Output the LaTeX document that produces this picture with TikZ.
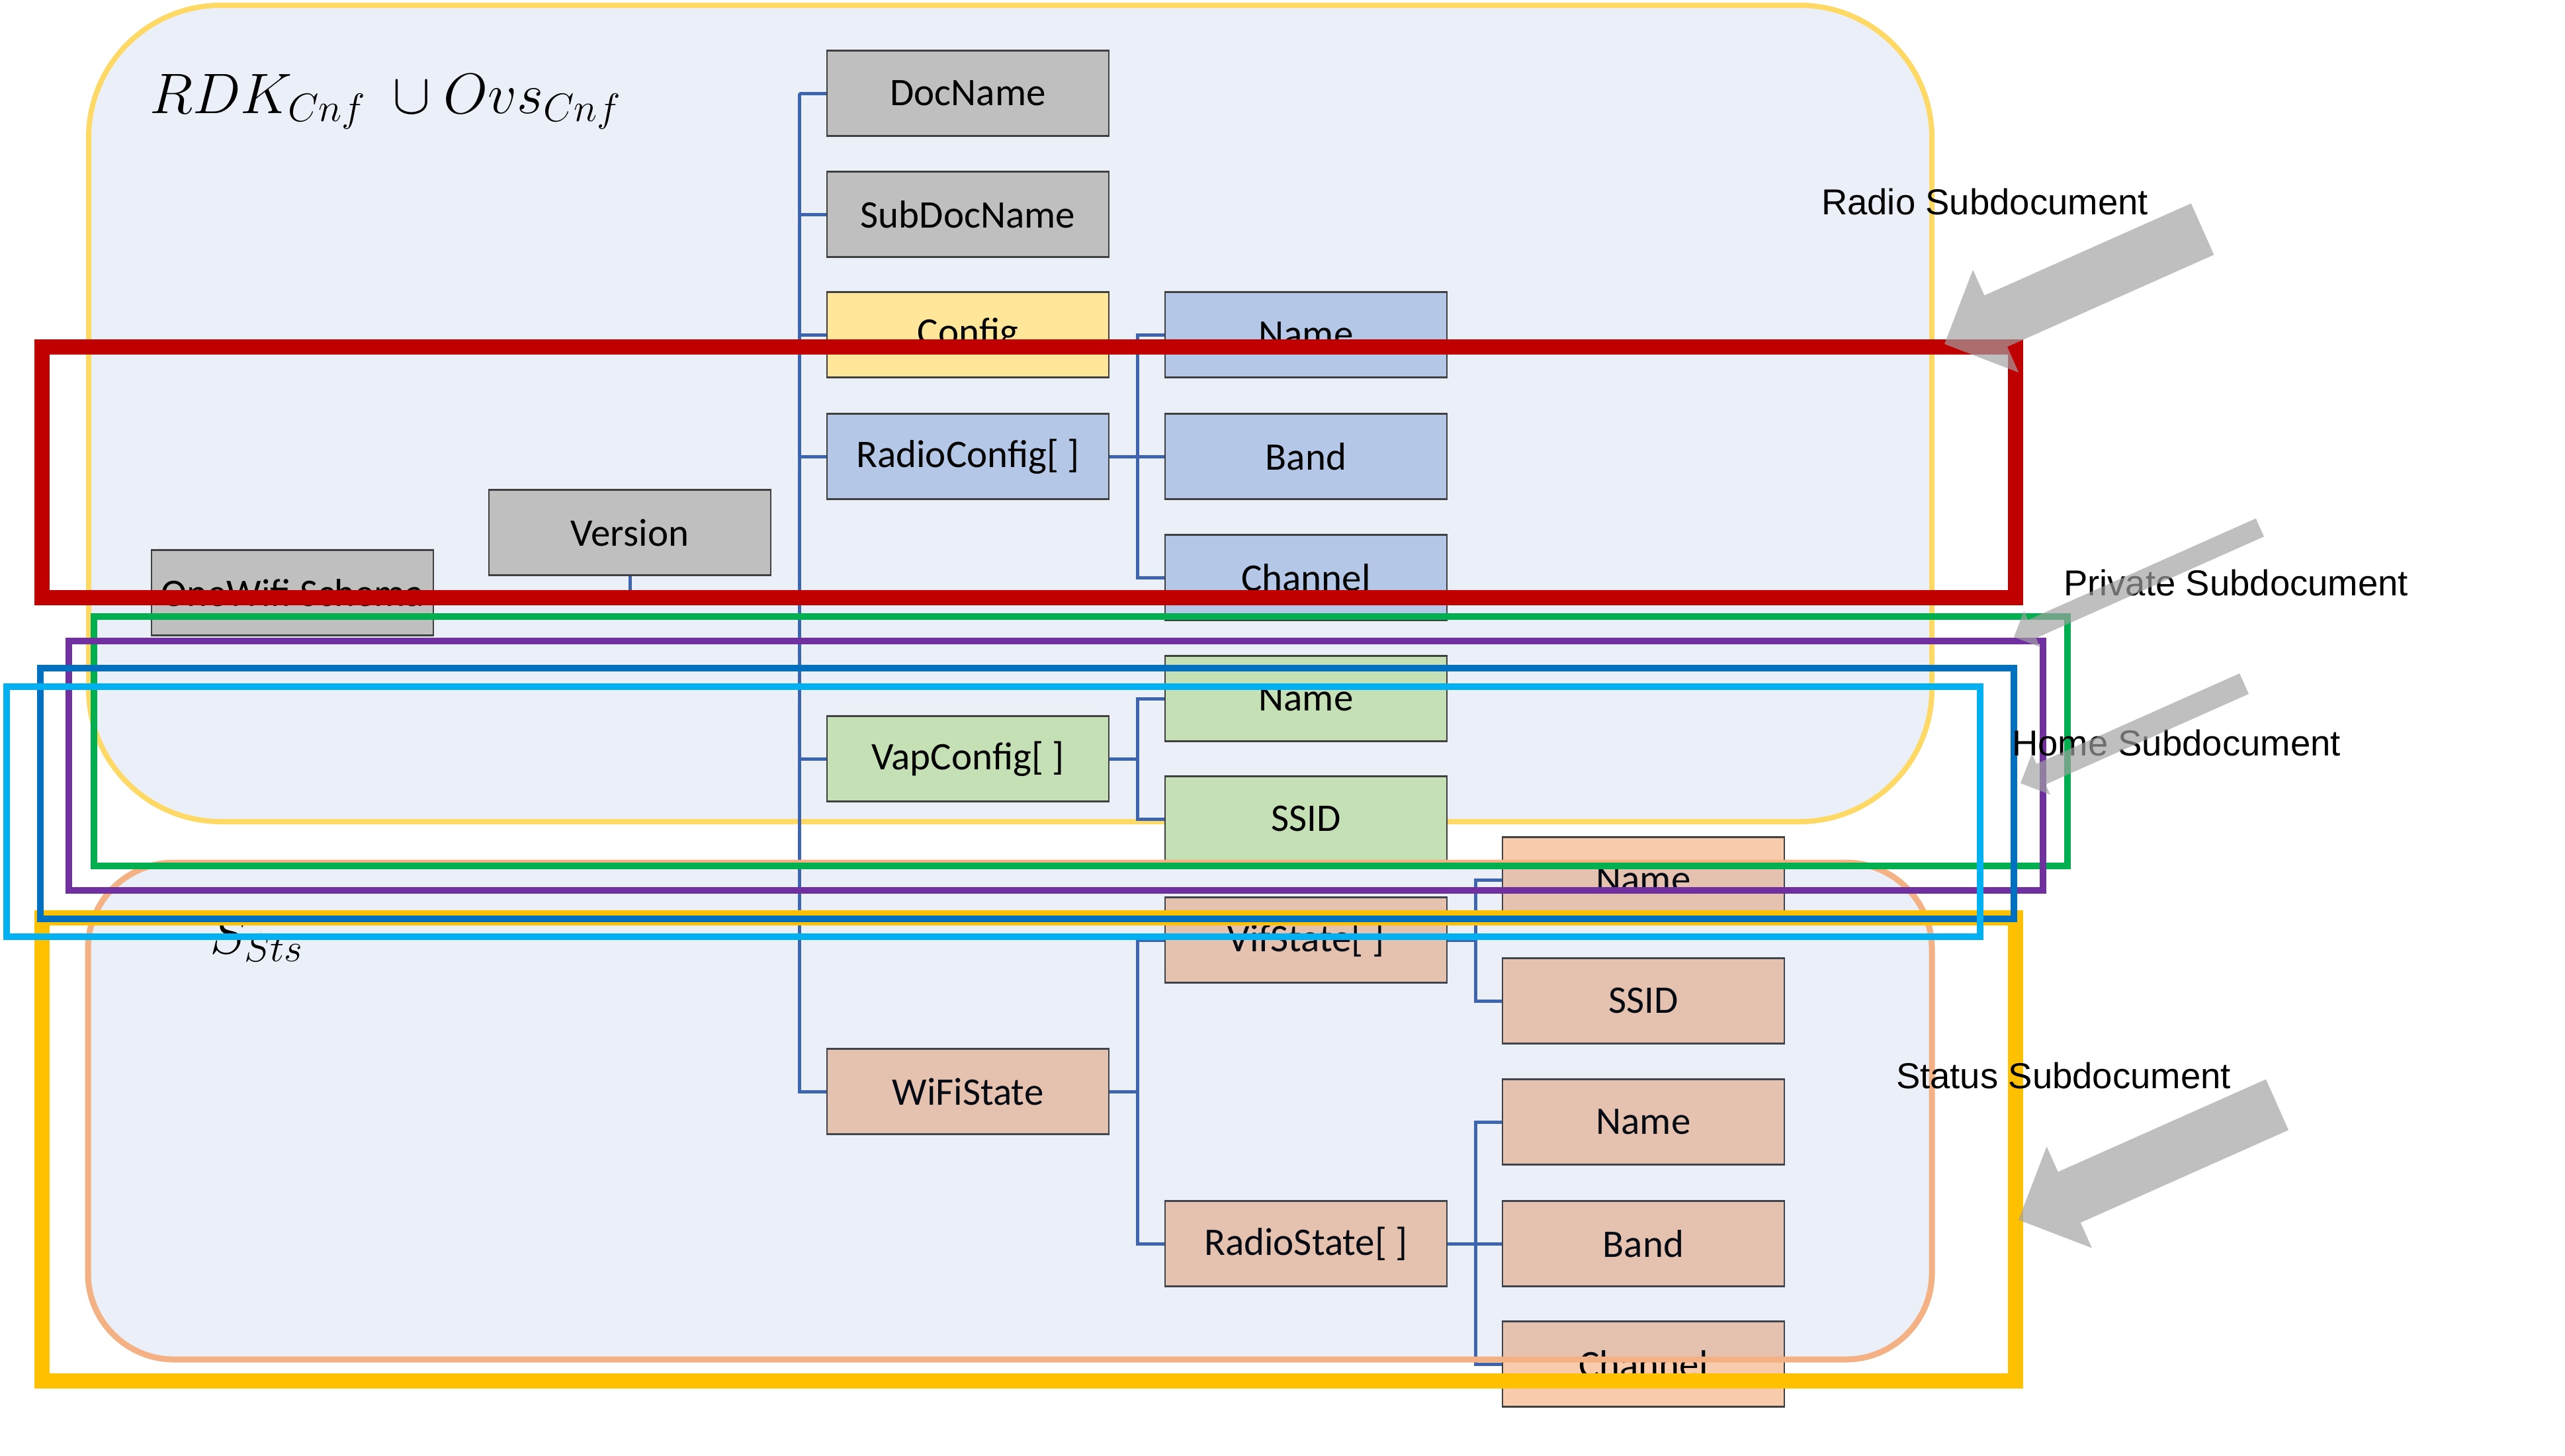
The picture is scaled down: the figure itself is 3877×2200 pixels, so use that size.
\documentclass[tikz,border=0pt]{standalone}
\usepackage{fontspec,xcolor,tikz}
\usetikzlibrary{calc}
\setmainfont{Carlito}
\newfontfamily\arialfont{Liberation Sans}
\definecolor{owback}{HTML}{4472C4}
\definecolor{owcnf}{HTML}{FFD966}
\definecolor{owsts}{HTML}{F4B183}
\definecolor{owgrau}{HTML}{BFBFBF}
\definecolor{owgelb}{HTML}{FFE699}
\definecolor{owblau}{HTML}{B4C7E7}
\definecolor{owgruen}{HTML}{C5E0B4}
\definecolor{oworange}{HTML}{F8CBAD}
\definecolor{owlinie}{HTML}{3D64AE}
\definecolor{owrahmen}{HTML}{404040}
\definecolor{owrot}{HTML}{C00000}
\definecolor{owgold}{HTML}{FFC000}
\definecolor{owgrn}{HTML}{00B050}
\definecolor{owlila}{HTML}{7030A0}
\definecolor{owdblau}{HTML}{0070C0}
\definecolor{owhblau}{HTML}{00B0F0}
\definecolor{owpfeilgrau}{HTML}{A2A2A2}
\newcommand{\owlab}{\fontsize{11.8}{14}\selectfont}
\newcommand{\owsub}{\arialfont\fontsize{10.9}{13}\selectfont}
\newcommand{\owmath}{\fontsize{17}{20}\selectfont}
\newcommand{\owpfeil}[4]{%
  \fill[owpfeilgrau,opacity=0.68,shift={(#1,#2)},rotate=24]
    (0,0) -- ({#4},{#4}) -- ({#4},{#4/2}) -- ({#3},{#4/2}) -- ({#3},{-#4/2})
    -- ({#4},{-#4/2}) -- ({#4},{-#4}) -- cycle;
}
\tikzset{
  owbox/.style={draw=owrahmen,line width=0.5pt,minimum width=85.2pt,
    minimum height=25.8pt,inner sep=0pt,font=\owlab},
  owgraubox/.style={owbox,fill=owgrau},
  owgelbbox/.style={owbox,fill=owgelb},
  owblaubox/.style={owbox,fill=owblau},
  owgruenbox/.style={owbox,fill=owgruen},
  oworangebox/.style={owbox,fill=oworange},
  owline/.style={draw=owlinie,line width=1pt},
  owflaeche/.style={fill=owback,fill opacity=0.1},
  owdick/.style={line width=4.6pt},
  owduenn/.style={line width=2.15pt},
  owtext/.style={anchor=base west,inner sep=0pt},
}

\begin{document}
\begin{tikzpicture}[x=0.2pt,y=-0.2pt]
\useasboundingbox (0,0) rectangle (3877,2200);
\fill[white] (0,0) rectangle (3877,2200);
% config area
\draw[owcnf,line width=1.6pt,owflaeche,rounded corners=40pt] (134,8) rectangle (2920,1242);
% boxes
\node[owgraubox] (docname) at (1463,141) {DocName};
\node[owgraubox] (subdoc) at (1463,324) {SubDocName};
\node[owgelbbox] (config) at (1463,506) {Config};
\node[owblaubox] (radcfg) at (1463,690) {RadioConfig[ ]};
\node[owgruenbox] (vapcfg) at (1463,1147) {VapConfig[ ]};
\node[oworangebox] (wifist) at (1463,1650) {WiFiState};
\node[owblaubox] (rname) at (1974,506) {Name};
\node[owblaubox] (rband) at (1974,690) {Band};
\node[owblaubox] (rchan) at (1974,873) {Channel};
\node[owgruenbox] (vname) at (1974,1056) {Name};
\node[owgruenbox] (vssid) at (1974,1238) {SSID};
\node[oworangebox] (vifst) at (1974,1421) {VifState[ ]};
\node[oworangebox] (radst) at (1974,1880) {RadioState[ ]};
\node[oworangebox] (sname) at (2484,1330) {Name};
\node[oworangebox] (sssid) at (2484,1513) {SSID};
\node[oworangebox] (rsname) at (2484,1696) {Name};
\node[oworangebox] (rsband) at (2484,1880) {Band};
\node[oworangebox] (rschan) at (2484,2062) {Channel};
\node[owgraubox] (version) at (952,805) {Version};
\node[owgraubox] (schema) at (442,896) {OneWifi Schema};
% connectors
\coordinate (wurzel) at (1208,141);
\coordinate (verfuss) at (952,900);
\foreach \k in {docname,subdoc,config,radcfg,vapcfg,wifist}
  \draw[owline] (wurzel) |- (\k.west);
\foreach \k in {rname,rband,rchan}
  \draw[owline] (radcfg.east) -- ++(42,0) |- (\k.west);
\foreach \k in {vname,vssid}
  \draw[owline] (vapcfg.east) -- ++(42,0) |- (\k.west);
\foreach \k in {vifst,radst}
  \draw[owline] (wifist.east) -- ++(42,0) |- (\k.west);
\foreach \k in {sname,sssid}
  \draw[owline] (vifst.east) -- ++(42,0) |- (\k.west);
\foreach \k in {rsname,rsband,rschan}
  \draw[owline] (radst.east) -- ++(42,0) |- (\k.west);
\draw[owline] (version.south) -- (verfuss);
% status area
\draw[owsts,line width=1.8pt,owflaeche,rounded corners=26pt] (133,1304) rectangle (2920,2055);
\node[owtext] (cnftitel) at (225,171) {\owmath $RDK_{Cnf}\ \cup Ovs_{Cnf}$};
\node[owtext] (ststitel) at (316,1441) {\owmath $S_{Sts}$};
% subdocument frames
\draw[owrot,owdick] (63,524) rectangle (3046,903);
\draw[owgold,owdick] (63,1387) rectangle (3046,2087);
\draw[owgrn,owduenn] (142,932) rectangle (3125,1309);
\draw[owlila,owduenn] (104,969) rectangle (3088,1346);
\draw[owdblau,owduenn] (61,1010) rectangle (3044,1389);
\draw[owhblau,owduenn] (10,1038) rectangle (2993,1416);
\node[owtext] (radiolab) at (2752,324) {\owsub Radio Subdocument};
\node[owtext] (privlab) at (3118,900) {\owsub Private Subdocument};
\node[owtext] (homelab) at (3040,1142) {\owsub Home Subdocument};
\node[owtext] (statlab) at (2865,1645) {\owsub Status Subdocument};
\owpfeil{2939}{520}{427}{85}
\owpfeil{3044}{963}{407}{30}
\owpfeil{3054}{1184}{370}{34}
\owpfeil{3051}{1844}{428}{84}
\end{tikzpicture}
\end{document}
